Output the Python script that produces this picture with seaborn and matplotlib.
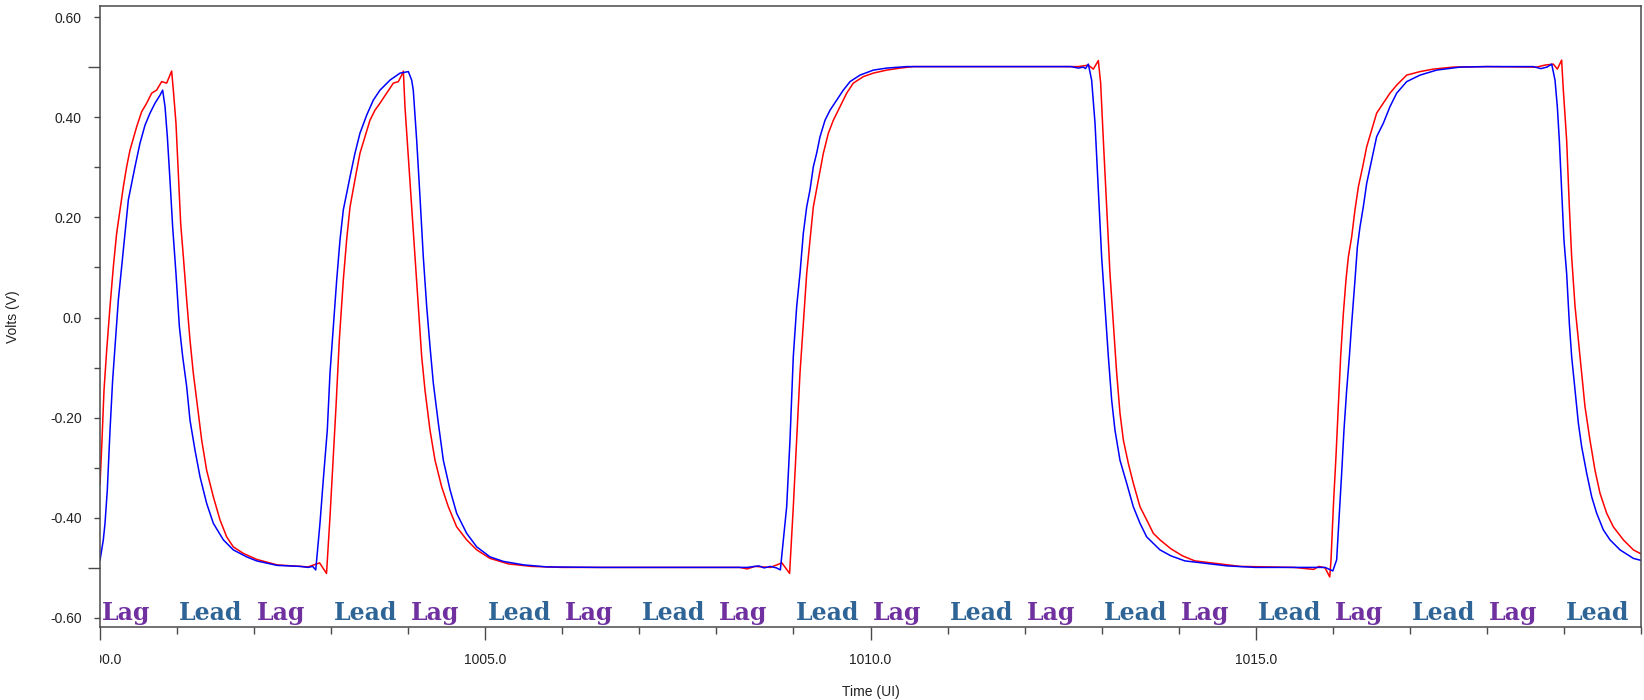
import matplotlib
matplotlib.use("Agg")
import matplotlib.pyplot as plt
import seaborn as sns
from matplotlib.transforms import Bbox, TransformedBbox

# ---- waveform samples: time in UI, amplitude in volts ----
red_t = [
    1000.000, 1000.026, 1000.052, 1000.087, 1000.130, 1000.173, 1000.216, 1000.260,
    1000.303, 1000.346, 1000.389, 1000.433, 1000.476, 1000.541, 1000.606, 1000.671,
    1000.735, 1000.800, 1000.865, 1000.930, 1000.952, 1000.986, 1001.017, 1001.047,
    1001.082, 1001.125, 1001.168, 1001.211, 1001.255, 1001.320, 1001.384, 1001.471,
    1001.557, 1001.644, 1001.730, 1001.860, 1002.033, 1002.300, 1002.600, 1002.700,
    1002.850, 1002.940, 1002.985, 1003.028, 1003.063, 1003.106, 1003.158, 1003.201,
    1003.245, 1003.309, 1003.374, 1003.439, 1003.504, 1003.569, 1003.634, 1003.720,
    1003.807, 1003.872, 1003.915, 1003.937, 1003.958, 1004.002, 1004.045, 1004.088,
    1004.131, 1004.175, 1004.218, 1004.283, 1004.348, 1004.434, 1004.521, 1004.629,
    1004.759, 1004.889, 1005.062, 1005.300, 1005.600, 1006.000, 1008.300, 1008.400,
    1008.500, 1008.700, 1008.850, 1008.950, 1008.998, 1009.042, 1009.085, 1009.128,
    1009.172, 1009.215, 1009.258, 1009.323, 1009.388, 1009.453, 1009.518, 1009.604,
    1009.691, 1009.777, 1009.907, 1010.037, 1010.210, 1010.383, 1010.556, 1012.700,
    1012.827, 1012.892, 1012.957, 1012.987, 1013.022, 1013.065, 1013.108, 1013.152,
    1013.195, 1013.238, 1013.282, 1013.346, 1013.411, 1013.498, 1013.584, 1013.671,
    1013.757, 1013.900, 1014.050, 1014.210, 1014.800, 1015.500, 1015.750, 1015.820,
    1015.900, 1015.960,
    1015.977, 1016.007, 1016.041, 1016.072, 1016.102, 1016.137, 1016.171, 1016.202,
    1016.245, 1016.288, 1016.332, 1016.388, 1016.440, 1016.504, 1016.569, 1016.656,
    1016.742, 1016.829, 1016.959, 1017.132, 1017.305, 1017.564, 1018.000, 1018.646,
    1018.754, 1018.862, 1018.914, 1018.970, 1018.992, 1019.035, 1019.070, 1019.100,
    1019.144, 1019.187, 1019.230, 1019.273, 1019.338, 1019.403, 1019.468, 1019.555,
    1019.641, 1019.771, 1019.901, 1020.000,
]
red_v = [
    -0.334, -0.245, -0.145, -0.065, 0.022, 0.101, 0.168, 0.215,
    0.261, 0.301, 0.334, 0.358, 0.381, 0.411, 0.428, 0.448,
    0.454, 0.471, 0.468, 0.492, 0.454, 0.388, 0.288, 0.188,
    0.121, 0.035, -0.045, -0.111, -0.165, -0.245, -0.305, -0.358,
    -0.404, -0.438, -0.458, -0.471, -0.483, -0.494, -0.497, -0.498,
    -0.490, -0.511, -0.398, -0.278, -0.178, -0.045, 0.075, 0.155,
    0.221, 0.275, 0.328, 0.361, 0.394, 0.414, 0.428, 0.448,
    0.468, 0.471, 0.484, 0.492, 0.421, 0.321, 0.221, 0.121,
    0.022, -0.078, -0.145, -0.225, -0.285, -0.338, -0.378, -0.418,
    -0.444, -0.464, -0.481, -0.492, -0.497, -0.499, -0.499, -0.502,
    -0.497, -0.499, -0.490, -0.511, -0.378, -0.245, -0.111, -0.012,
    0.088, 0.155, 0.221, 0.275, 0.328, 0.368, 0.394, 0.421,
    0.448, 0.468, 0.481, 0.488, 0.494, 0.498, 0.501, 0.501,
    0.504, 0.496, 0.513, 0.468, 0.354, 0.221, 0.088, -0.012,
    -0.111, -0.191, -0.245, -0.291, -0.331, -0.378, -0.404, -0.431,
    -0.444, -0.462, -0.476, -0.486, -0.497, -0.499, -0.503, -0.497,
    -0.500, -0.518,
    -0.484, -0.378, -0.278, -0.178, -0.078, 0.008, 0.075, 0.121,
    0.161, 0.215, 0.261, 0.301, 0.341, 0.374, 0.408, 0.428,
    0.448, 0.464, 0.484, 0.491, 0.496, 0.500, 0.501, 0.500,
    0.504, 0.506, 0.496, 0.514, 0.454, 0.354, 0.221, 0.121,
    0.022, -0.045, -0.111, -0.178, -0.245, -0.305, -0.351, -0.391,
    -0.418, -0.444, -0.464, -0.472,
]

blue_t = [
    1000.000, 1000.043, 1000.065, 1000.095, 1000.130, 1000.164, 1000.195, 1000.238,
    1000.281, 1000.324, 1000.368, 1000.411, 1000.454, 1000.519, 1000.584, 1000.649,
    1000.714, 1000.779, 1000.813, 1000.844, 1000.874, 1000.908, 1000.943, 1000.986,
    1001.030, 1001.073, 1001.125, 1001.168, 1001.233, 1001.298, 1001.384, 1001.471,
    1001.601, 1001.730, 1001.904, 1002.033, 1002.300, 1002.600, 1002.700, 1002.760,
    1002.800, 1002.855, 1002.898, 1002.950, 1002.985, 1003.028, 1003.072, 1003.115,
    1003.158, 1003.201, 1003.245, 1003.309, 1003.374, 1003.461, 1003.547, 1003.634,
    1003.764, 1003.894, 1004.002, 1004.045, 1004.066, 1004.110, 1004.153, 1004.196,
    1004.240, 1004.283, 1004.326, 1004.391, 1004.456, 1004.543, 1004.629, 1004.759,
    1004.889, 1005.062, 1005.235, 1005.500, 1005.800, 1006.500, 1008.400, 1008.550,
    1008.620, 1008.700, 1008.780, 1008.830, 1008.912, 1008.955, 1008.998, 1009.042,
    1009.085, 1009.128, 1009.172, 1009.215, 1009.258, 1009.301, 1009.345, 1009.410,
    1009.475, 1009.561, 1009.647, 1009.734, 1009.864, 1010.037, 1010.210, 1010.469,
    1012.600, 1012.700, 1012.760, 1012.790, 1012.827, 1012.870, 1012.914, 1012.957,
    1013.000, 1013.043, 1013.087, 1013.130, 1013.173, 1013.238, 1013.325, 1013.411,
    1013.498, 1013.584, 1013.757, 1013.900, 1014.080, 1014.630, 1015.000, 1015.900,
    1016.000,
    1016.050, 1016.085, 1016.115, 1016.145, 1016.180, 1016.215, 1016.245, 1016.288,
    1016.319, 1016.353, 1016.396, 1016.440, 1016.504, 1016.569, 1016.656, 1016.742,
    1016.829, 1016.959, 1017.132, 1017.348, 1017.651, 1018.000, 1018.600, 1018.700,
    1018.780, 1018.841, 1018.884, 1018.914, 1018.940, 1018.970, 1019.000, 1019.035,
    1019.070, 1019.100, 1019.144, 1019.187, 1019.230, 1019.295, 1019.360, 1019.425,
    1019.511, 1019.598, 1019.728, 1019.901, 1020.000,
]
blue_v = [
    -0.485, -0.444, -0.411, -0.344, -0.225, -0.125, -0.058, 0.035,
    0.101, 0.168, 0.235, 0.268, 0.301, 0.348, 0.384, 0.408,
    0.428, 0.444, 0.454, 0.421, 0.361, 0.275, 0.181, 0.088,
    -0.018, -0.078, -0.138, -0.205, -0.265, -0.318, -0.371, -0.411,
    -0.444, -0.464, -0.478, -0.486, -0.495, -0.497, -0.499, -0.497,
    -0.504, -0.411, -0.324, -0.225, -0.111, -0.018, 0.075, 0.155,
    0.215, 0.248, 0.281, 0.328, 0.368, 0.404, 0.434, 0.454,
    0.474, 0.488, 0.491, 0.474, 0.454, 0.354, 0.241, 0.121,
    0.022, -0.058, -0.131, -0.211, -0.285, -0.344, -0.391, -0.431,
    -0.458, -0.478, -0.487, -0.494, -0.498, -0.499, -0.499, -0.496,
    -0.500, -0.497, -0.500, -0.504, -0.378, -0.245, -0.078, 0.022,
    0.088, 0.168, 0.221, 0.255, 0.301, 0.328, 0.361, 0.394,
    0.414, 0.434, 0.454, 0.471, 0.484, 0.494, 0.498, 0.501,
    0.501, 0.498, 0.500, 0.497, 0.506, 0.474, 0.388, 0.255,
    0.121, 0.022, -0.078, -0.165, -0.225, -0.285, -0.331, -0.378,
    -0.411, -0.438, -0.464, -0.476, -0.486, -0.496, -0.499, -0.499,
    -0.506,
    -0.484, -0.391, -0.311, -0.225, -0.145, -0.078, -0.012, 0.075,
    0.141, 0.181, 0.221, 0.268, 0.314, 0.361, 0.388, 0.421,
    0.448, 0.471, 0.484, 0.494, 0.500, 0.501, 0.501, 0.497,
    0.500, 0.506, 0.474, 0.421, 0.354, 0.255, 0.155, 0.088,
    -0.012, -0.078, -0.145, -0.211, -0.258, -0.311, -0.358, -0.391,
    -0.424, -0.444, -0.464, -0.481, -0.485,
]

# ---- axis ticks and per-UI phase annotations ----
x_major = [1000, 1005, 1010, 1015]
x_major_labels = ["1000.0", "1005.0", "1010.0", "1015.0"]
x_minor = list(range(1000, 1021))
y_major = [0.6, 0.4, 0.3, 0.2, 0.1, 0.0, -0.1, -0.2, -0.3, -0.4, -0.6]
y_major_labels = ["0.60", "0.40", "", "0.20", "", "0.0", "", "-0.20", "", "-0.40", "-0.60"]
y_levels = [-0.5, 0.5]
phase_labels = ["Lag", "Lead"] * 10
phase_colors = {"Lag": "#7030a0", "Lead": "#2e6496"}

sns.set_style("white")
plt.rcParams["font.family"] = ["Liberation Sans", "DejaVu Sans"]

W, H = 1644, 700
fig = plt.figure(figsize=(W / 100, H / 100), dpi=100)
ax = fig.add_axes([100 / W, 1 - 627 / H, 1541 / W, 621 / H])

sns.lineplot(x=red_t, y=red_v, color="#ff0000", lw=1.1, estimator=None,
             sort=False, ax=ax)
sns.lineplot(x=blue_t, y=blue_v, color="#0000ff", lw=1.1, estimator=None,
             sort=False, ax=ax)

ax.set_xlim(1000, 1020)
ax.set_ylim(-0.618, 0.622)

frame = "#4a4a4a"
for s in ax.spines.values():
    s.set_visible(True)
    s.set_color(frame)
    s.set_linewidth(1.1)

ax.set_xticks(x_major)
ax.set_xticklabels(x_major_labels)
ax.set_xticks(x_minor, minor=True)
ax.set_yticks(y_major)
ax.set_yticklabels(y_major_labels)
ax.set_yticks(y_levels, minor=True)

ax.tick_params(axis="both", which="both", bottom=True, left=True,
               top=False, right=False)
ax.tick_params(axis="x", which="major", direction="out", length=9, width=1.0,
               color=frame, labelsize=10, labelcolor="#222222", pad=10)
ax.tick_params(axis="x", which="minor", direction="out", length=5, width=1.0,
               color=frame)
ax.tick_params(axis="y", which="major", direction="out", length=4.5, width=1.0,
               color=frame, labelsize=10, labelcolor="#222222", pad=8.5)
ax.tick_params(axis="y", which="minor", direction="out", length=9, width=1.0,
               color=frame)

ax.set_xlabel("Time (UI)", fontsize=10, color="#222222", va="center")
ax.xaxis.set_label_coords(0.5, -0.1047)
ax.set_ylabel("Volts (V)", fontsize=10, color="#222222", va="center")
ax.yaxis.set_label_coords(-0.0567, 0.5)

for i, lab in enumerate(phase_labels):
    ax.text(x_minor[i] + 0.03, -0.604, lab, fontsize=17, fontweight="bold",
            family="DejaVu Serif", color=phase_colors[lab], va="baseline",
            ha="left")

# the first time label is cut at the plot's left edge
clip = TransformedBbox(Bbox.from_extents(0, -1, 1, 0), ax.transAxes)
first = ax.xaxis.get_major_ticks()[0].label1
first.set_clip_box(clip)
first.set_clip_on(True)

fig.savefig("out.png", dpi=100, facecolor="white")
